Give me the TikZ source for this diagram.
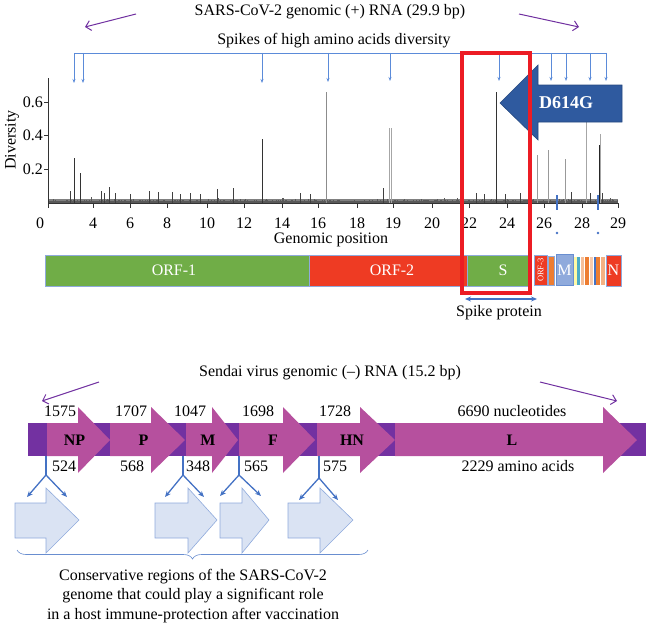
\documentclass[tikz,border=0pt]{standalone}
\usepackage{fontspec}
\setmainfont{Liberation Serif}
\usetikzlibrary{positioning,arrows.meta,decorations.pathreplacing,calc}

\definecolor{vpurple}{HTML}{7030A0}
\definecolor{orfgreen}{HTML}{70AD47}
\definecolor{orfred}{HTML}{EE3B23}
\definecolor{boxred}{HTML}{EC1C24}
\definecolor{linkblue}{HTML}{4472C4}
\definecolor{spikeblue}{HTML}{5B8BD9}
\definecolor{mutblue}{HTML}{2F5A9F}
\definecolor{genemag}{HTML}{B6509E}
\definecolor{barpurple}{HTML}{7331A1}
\definecolor{paleblue}{HTML}{DAE3F3}
\definecolor{edgeblue}{HTML}{8FAADC}
\definecolor{stripeorange}{HTML}{ED7D31}
\definecolor{stripeteal}{HTML}{4BACC6}

\newcommand{\genearrow}[5]{%
  \fill[genemag] (#1,423) -- (#2,423) -- (#2,407) -- (#3,440) -- (#2,473) -- (#2,456) -- (#1,456) -- cycle;
  \coordinate (#4-foot) at (#1,456);
  \node[genelab] (#4) at ({(#1+#3)/2-4},440) {#5};}
\newcommand{\consarrow}[4]{%
  \draw[consbox] (#1,503) -- (#2,503) -- (#2,488) -- (#3,520) -- (#2,553) -- (#2,538) -- (#1,538) -- cycle;
  \coordinate (#4) at ({(#1+#3)/2},520);}

\begin{document}
\begin{tikzpicture}[x=1pt, y=-1pt,
    font=\fontsize{16}{19}\selectfont,
    dirarrow/.style={vpurple, line width=1pt, -{Straight Barb[length=5pt,width=10pt]}},
    spikelink/.style={spikeblue, line width=0.6pt},
    spikehead/.style={spikelink, -{Stealth[length=4pt,width=3pt]}},
    seg/.style={draw=linkblue!60, line width=0.5pt},
    seglab/.style={text=white, inner sep=0pt},
    genelab/.style={font=\fontsize{16}{19}\selectfont\bfseries, inner sep=0pt},
    consbox/.style={fill=paleblue, draw=edgeblue, line width=0.6pt},
    fork/.style={linkblue, line width=1.3pt},
    forkhead/.style={fork, -{Stealth[length=6pt,width=5pt]}},
    noise/.style={black!65, line width=0.6pt}
  ]
  \useasboundingbox (0,0) rectangle (650,626);

  % SARS-CoV-2 part
  \node (cov-title) at (330,12) {SARS-CoV-2 genomic (+) RNA (29.9 bp)};
  \coordinate (cov-l1) at (136,14); \coordinate (cov-l2) at (85,27);
  \coordinate (cov-r1) at (519,14); \coordinate (cov-r2) at (579,27);
  \draw[dirarrow] (cov-l1) -- (cov-l2);
  \draw[dirarrow] (cov-r1) -- (cov-r2);
  \node (spike-title) at (334,41) {Spikes of high amino acids diversity};

  \coordinate (hub-l) at (74,53); \coordinate (hub-r) at (606,53);
  \draw[spikelink] (hub-l) -- (hub-r);
  \foreach \x/\e in {74/83,83/83,262/83,328/82,390/81,499/81,551/81,566/81,590/81,606/81} {
    \coordinate (hit-\x) at (\x,\e);
    \draw[spikehead] (\x,53) -- (hit-\x);
  }

  % diversity plot
  \pgfmathsetseed{11}
  \fill[black!50] (48,199) rectangle (618,203);
  \foreach \i in {0,...,569} {
    \pgfmathsetmacro\nx{48.5+\i}
    \pgfmathsetmacro\nh{2+4*rnd*rnd*rnd}
    \draw[noise] (\nx,203) -- (\nx,203-\nh);
  }
  \foreach \x/\t in {70/191,101/191,104/193,109/187,115/193,130/194,149/191,158/192,172/192,180/194,
                     190/193,200/194,217/189,233/188,300/193,310/194,383/188,476/193,484/194,
                     505/194,520/193,571/192,590/193,602/193}
    \draw[black!75, line width=0.8pt] (\x,203) -- (\x,\t);
  \foreach \x/\t/\c in {74/158/black!80,80/173/black!80,262/139/black!80,326/92/black!45,
                        389/128/black!35,391/128/black!35,496/92/black!80,537/155/black!40,
                        548/150/black!40,565/159/black!40,586/95/black!35,600/134/black!35,
                        599/145/black!85}
    \draw[\c, line width=1pt] (\x,203) -- (\x,\t);

  \draw[black!80, line width=0.6pt] (48,78) -- (48,203) -- (618,203);
  \foreach \y/\v in {102/0.6,135/0.4,169/0.2} {
    \draw[black!80] (44,\y) -- (48,\y);
    \node[left, inner sep=1pt] (ytick-\y) at (44,\y) {\v};
  }
  \foreach \x/\v in {48/0,93/4,130/6,167/8,207/10,244/12,282/14,318/16,357/18,393/19,
                     432/20,469/22,507/24,544/26,582/28,618/29}
    \draw[black!80] (\x,203) -- (\x,208);
  \foreach \x/\v in {40/0,93/4,130/6,167/8,207/10,244/12,282/14,318/16,357/18,393/19,
                     432/20,469/22,507/24,544/26,582/28,618/29}
    \node (xtick-\v) at (\x,223) {\v};
  \node[rotate=90] (ylabel) at (12,140) {Diversity};
  \node (xlabel) at (331,240) {Genomic position};

  \foreach \x in {557,598} {
    \draw[linkblue, line width=1.6pt] (\x,195) -- (\x,210);
    \fill[linkblue] (\x,233) circle (1.3);
  }

  % D614G
  \draw[mutblue!80!black, fill=mutblue, line width=0.6pt]
    (622,85) -- (538,85) -- (538,65) -- (500,103) -- (538,140) -- (538,122) -- (622,122) -- cycle;
  \node[text=white, font=\fontsize{18}{20}\selectfont\bfseries] (mut) at (566,103) {D614G};

  % genome bar
  \draw[seg, fill=orfgreen] (45,255) rectangle (309,286);
  \draw[seg, fill=orfred] (309,255) rectangle (467,286);
  \draw[seg, fill=orfgreen] (467,255) rectangle (529,286);
  \node[seglab] (orf1) at (174,270.5) {ORF-1};
  \node[seglab] (orf2) at (392,270.5) {ORF-2};
  \node[seglab] (gene-s) at (503,270.5) {S};
  \draw[seg, fill=orfred] (534,255) rectangle (547,285);
  \node[seglab, rotate=90, font=\fontsize{8.5}{9}\selectfont] (orf3) at (540.5,270) {ORF-3};
  \draw[seg, fill=stripeorange] (548,256) rectangle (554,285);
  \foreach \a/\b/\c in {574/577/yellow!35,577/580/stripeteal,581/584/stripeorange!50,585/589/stripeorange,
                        590/593/stripeorange!40,594/595.5/linkblue,596/600/stripeorange,601/605/stripeorange!60}
    \fill[\c] (\a,257) rectangle (\b,285);
  \draw[seg, fill=edgeblue, draw=linkblue!80] (556,254) rectangle (573,285);
  \node[seglab] (gene-m) at (564.5,270) {M};
  \draw[seg, fill=orfred] (606,255) rectangle (621,286);
  \node[seglab] (gene-n) at (613.5,270.5) {N};

  \coordinate (sp-l) at (465,299); \coordinate (sp-r) at (537,299);
  \draw[linkblue, line width=1.5pt, {Stealth[length=6pt,width=5pt]}-{Stealth[length=6pt,width=5pt]}] (sp-l) -- (sp-r);
  \node (spike-prot) at (499,313) {Spike protein};

  \draw[boxred, line width=4.5pt] (462,53) rectangle (530,293);

  % Sendai virus part
  \node (sev-title) at (330,373) {Sendai virus genomic (--) RNA (15.2 bp)};
  \coordinate (sev-l1) at (99,382); \coordinate (sev-l2) at (42,401);
  \coordinate (sev-r1) at (540,382); \coordinate (sev-r2) at (617,401);
  \draw[dirarrow] (sev-l1) -- (sev-l2);
  \draw[dirarrow] (sev-r1) -- (sev-r2);

  \fill[barpurple] (28,423) rectangle (646,456);
  \genearrow{47}{78}{110}{np}{NP}
  \genearrow{110}{151}{185}{p}{P}
  \genearrow{186}{212}{238}{m}{M}
  \genearrow{239}{283}{315}{f}{F}
  \genearrow{317}{360}{395}{hn}{HN}
  \genearrow{395}{603}{637}{l}{L}

  \foreach \x/\t in {60/1575,131/1707,190/1047,258/1698,335/1728}
    \node (nt-\t) at (\x,411) {\t};
  \node (nt-l) at (512,411) {6690 nucleotides};
  \foreach \x/\t in {64/524,132/568,198/348,256/565,335/575}
    \node (aa-\t) at (\x,466) {\t};
  \node (aa-l) at (518,466) {2229 amino acids};

  % conserved regions
  \consarrow{15}{46}{79}{cons1}
  \consarrow{155}{188}{217}{cons2}
  \consarrow{220}{242}{269}{cons3}
  \consarrow{288}{320}{353}{cons4}

  \foreach \g/\sx/\sy/\lx/\rx/\ey in {np/46/475/27/67/497, m/183/475/165/204/497,
                                      f/239/475/220/261/496, hn/319/478/299/338/500} {
    \coordinate (split-\g) at (\sx,\sy);
    \draw[fork] (\sx,456) -- (split-\g);
    \draw[forkhead] (split-\g) -- (\lx,\ey);
    \draw[forkhead] (split-\g) -- (\rx,\ey);
  }

  \coordinate (br-l) at (17,550); \coordinate (br-r) at (368,550);
  \draw[linkblue!80, line width=0.6pt, decorate, decoration={brace, mirror, amplitude=9pt}] (br-l) -- (br-r);
  \node[align=center, font=\fontsize{16}{19.5}\selectfont] (conclusion) at (193,596)
    {Conservative regions of the SARS-CoV-2\\
     genome that could play a significant role\\
     in a host immune-protection after vaccination};
\end{tikzpicture}
\end{document}
